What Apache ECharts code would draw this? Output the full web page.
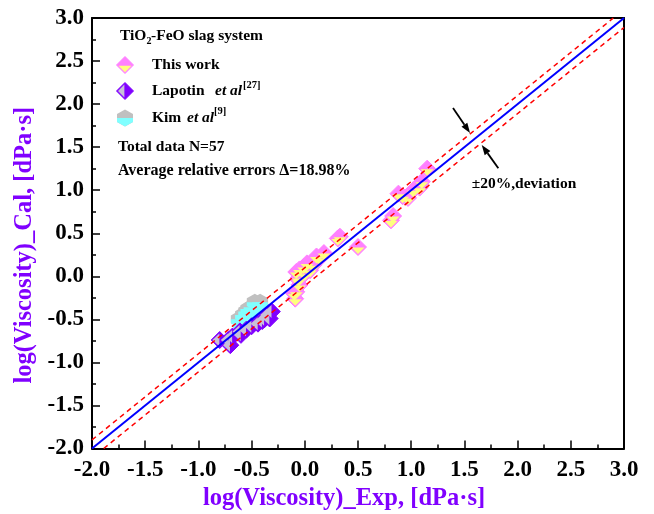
<!DOCTYPE html>
<html><head><meta charset="utf-8">
<script src="https://cdn.jsdelivr.net/npm/echarts@6/dist/echarts.min.js"></script>
<style>html,body{margin:0;padding:0;background:#fff}#c{width:654px;height:514px}</style>
</head><body><div id="c"></div>
<script>
// ---- data ----
const thisWorkExp = [1.15,1.10,1.08,1.02,0.97,0.92,0.88,0.83,0.81,0.50,0.33,0.31,0.18,0.14,0.11,0.08,0.05,0.02,0.00,-0.01,-0.05,-0.06,-0.08,-0.06,-0.05,-0.08,-0.09,-0.10];
const thisWorkCal = [1.25,1.10,1.03,1.00,0.91,0.93,0.96,0.70,0.65,0.34,0.46,0.44,0.27,0.21,0.23,0.13,0.07,0.15,0.03,0.11,0.08,-0.02,0.05,-0.04,-0.10,-0.18,-0.26,-0.20];
const lapotinExp = [-0.80,-0.72,-0.70,-0.68,-0.61,-0.55,-0.50,-0.44,-0.40,-0.35,-0.33,-0.31,-0.38,-0.60];
const lapotinCal = [-0.74,-0.74,-0.80,-0.70,-0.64,-0.62,-0.58,-0.55,-0.52,-0.45,-0.49,-0.41,-0.50,-0.68];
const kimExp = [-0.47,-0.44,-0.50,-0.48,-0.55,-0.58,-0.52,-0.62,-0.40,-0.45,-0.56,-0.42,-0.53,-0.60,-0.46];
const kimCal = [-0.30,-0.33,-0.36,-0.40,-0.41,-0.45,-0.47,-0.50,-0.38,-0.44,-0.52,-0.30,-0.38,-0.55,-0.48];
const parityLine = [[-2,-2],[3,3]];
const upperDev = [[-2,-1.9],[2.9,3]];
const lowerDev = [[-1.89,-2],[3,2.89]];
const axisMin = -2, axisMax = 3, axisStep = 0.5;

const FONT = 'Liberation Serif';
const PURPLE = '#8000ff';
const zip = (a,b) => a.map((v,i)=>[v,b[i]]);

const chart = echarts.init(document.getElementById('c'), null, {renderer:'canvas'});

function baseAxis(labelMargin){
  return {
    type:'value', min:axisMin, max:axisMax, interval:axisStep,
    axisLine:{show:true, onZero:false, lineStyle:{color:'#000', width:2}},
    axisTick:{show:true, inside:true, length:8, lineStyle:{color:'#000', width:1.5}},
    minorTick:{show:true, splitNumber:2, length:4, lineStyle:{color:'#000', width:1.5}},
    splitLine:{show:false},
    axisLabel:{color:'#000', fontFamily:FONT, fontWeight:'bold', fontSize:23, margin:labelMargin, formatter:v=>v.toFixed(1)},
    nameLocation:'middle'
  };
}
const frameAxis = {
  type:'value', min:axisMin, max:axisMax, interval:axisStep,
  axisLine:{show:true, onZero:false, lineStyle:{color:'#000', width:2}},
  axisTick:{show:false}, axisLabel:{show:false}, splitLine:{show:false}
};

const diamondHalfBottom = 'path://M0,0L2,0L1,1Z';
const diamondHalfLeft = 'path://M1,0L0,1L1,2Z';
const hexFull = 'path://M1,0L2,0.55L2,1.45L1,2L0,1.45L0,0.55Z';
const hexHalfBottom = 'path://M0,0L2,0L2,0.45L1,1L0,0.45Z';

const option = {
  animation:false,
  grid:{left:92, right:30, top:18, bottom:65.5, containLabel:false, outerBoundsMode:'none'},
  xAxis:[
    Object.assign(baseAxis(10), {position:'bottom', name:'log(Viscosity)_Exp, [dPa·s]', nameGap:30,
      nameTextStyle:{color:PURPLE, fontFamily:FONT, fontWeight:'bold', fontSize:24.5, padding:[0,28,0,0]}}),
    Object.assign({}, frameAxis, {position:'top'})
  ],
  yAxis:[
    Object.assign(baseAxis(8), {position:'left', name:'log(Viscosity)_Cal, [dPa·s]', nameGap:53,
      nameTextStyle:{color:PURPLE, fontFamily:FONT, fontWeight:'bold', fontSize:24.5, padding:[0,24,0,0]}}),
    Object.assign({}, frameAxis, {position:'right'})
  ],
  series:[
    {type:'scatter', name:'This work', data:zip(thisWorkExp,thisWorkCal), symbol:'diamond', symbolSize:[17,17],
     itemStyle:{color:'#ff80ff', borderColor:'#ff80ff', borderWidth:1, opacity:1}, z:2},
    {type:'scatter', name:'This work half', data:zip(thisWorkExp,thisWorkCal), symbol:diamondHalfBottom, symbolSize:[13,6.5], symbolOffset:[0,3.8],
     itemStyle:{color:'#ffff80', opacity:1}, z:2},
    {type:'scatter', name:'Kim', data:zip(kimExp,kimCal), symbol:hexFull, symbolSize:[16,17],
     itemStyle:{color:'#c0c0c0', opacity:1}, z:2},
    {type:'scatter', name:'Kim half', data:zip(kimExp,kimCal), symbol:hexHalfBottom, symbolSize:[16,8.5], symbolOffset:[0,4.25],
     itemStyle:{color:'#80ffff', opacity:1}, z:2},
    {type:'scatter', name:'Lapotin', data:zip(lapotinExp,lapotinCal), symbol:'diamond', symbolSize:[17,17],
     itemStyle:{color:PURPLE, borderColor:PURPLE, borderWidth:1, opacity:1}, z:2},
    {type:'scatter', name:'Lapotin half', data:zip(lapotinExp,lapotinCal), symbol:diamondHalfLeft, symbolSize:[7,13], symbolOffset:[-3.8,0],
     itemStyle:{color:'#c8c0d8', opacity:1}, z:2},
    {type:'line', data:upperDev, symbol:'none', lineStyle:{color:'#ff0000', width:1.5, type:[5,4]}, z:5, silent:true},
    {type:'line', data:lowerDev, symbol:'none', lineStyle:{color:'#ff0000', width:1.5, type:[5,4]}, z:5, silent:true},
    {type:'line', data:parityLine, symbol:'none', lineStyle:{color:'#0000ff', width:2}, z:6, silent:true}
  ]
};
chart.setOption(option);

function txt(x,y,text,opt){
  opt = opt||{};
  return {type:'text', x:x, y:y, z:100, style:Object.assign({
    text:text, fill:'#000', fontFamily:FONT, fontWeight:'bold', fontSize:15.5,
    align:'left', verticalAlign:'middle', textAlign:'left', textVerticalAlign:'middle'}, opt)};
}
function arrow(tail, tip){
  const dx = tip[0]-tail[0], dy = tip[1]-tail[1];
  const L = Math.hypot(dx,dy), ux = dx/L, uy = dy/L;
  const hl = 10, hw = 3.5;
  const bx = tip[0]-ux*hl, by = tip[1]-uy*hl;
  return [
    {type:'line', z:100, shape:{x1:tail[0], y1:tail[1], x2:bx, y2:by}, style:{stroke:'#000', lineWidth:1.8}},
    {type:'polygon', z:100, shape:{points:[[tip[0],tip[1]],[bx-uy*hw,by+ux*hw],[bx+uy*hw,by-ux*hw]]}, style:{fill:'#000'}}
  ];
}
const P = (x,y) => chart.convertToPixel({xAxisIndex:0, yAxisIndex:0}, [x,y]);

// legend icons
const ic = 125;
const legendIcons = [
  // This work
  {type:'polygon', z:100, shape:{points:[[ic,56.5],[ic+8.5,65],[ic,73.5],[ic-8.5,65]]}, style:{fill:'#ff80ff', stroke:'#ff80ff', lineWidth:1}},
  {type:'polygon', z:100, shape:{points:[[ic-6.5,65.8],[ic+6.5,65.8],[ic,72.3]]}, style:{fill:'#ffff80'}},
  // Lapotin
  {type:'polygon', z:100, shape:{points:[[ic,82.5],[ic+8.5,91],[ic,99.5],[ic-8.5,91]]}, style:{fill:PURPLE, stroke:PURPLE, lineWidth:1}},
  {type:'polygon', z:100, shape:{points:[[ic-0.6,84.5],[ic-0.6,97.5],[ic-7,91]]}, style:{fill:'#c8c0d8'}},
  // Kim
  {type:'polygon', z:100, shape:{points:[[ic,109.5],[ic+8,114],[ic+8,122],[ic,126.5],[ic-8,122],[ic-8,114]]}, style:{fill:'#c0c0c0'}},
  {type:'polygon', z:100, shape:{points:[[ic-8,118],[ic+8,118],[ic+8,122],[ic,126.5],[ic-8,122]]}, style:{fill:'#80ffff'}}
];

const legendTexts = [
  txt(120,36,'TiO'),
  txt(146.5,41,'2',{fontSize:10}),
  txt(151,36,'-FeO slag system'),
  txt(152,65,'This work'),
  txt(152,91,'Lapotin'),
  txt(215,91,'et al',{fontStyle:'italic'}),
  txt(243,85,'[27]',{fontSize:10.5}),
  txt(152,118,'Kim'),
  txt(187,118,'et al',{fontStyle:'italic'}),
  txt(214,111,'[9]',{fontSize:10.5}),
  txt(118,147,'Total data N=57'),
  txt(118,171,'Average relative errors \u0394=18.98%',{fontSize:16})
];

const upTail = P(1.393,1.955), upTip = P(1.553,1.664);
const loTail = P(1.819,1.254), loTip = P(1.663,1.525);
const lab = P(2.06,1.07);
const annot = [].concat(arrow(upTail,upTip), arrow(loTail,loTip),
  [txt(lab[0],lab[1],'\u00b120%,deviation',{align:'center', textAlign:'center', fontSize:15.5})]);

chart.setOption({graphic:{elements:[].concat(legendIcons, legendTexts, annot)}});
</script>
</body></html>
